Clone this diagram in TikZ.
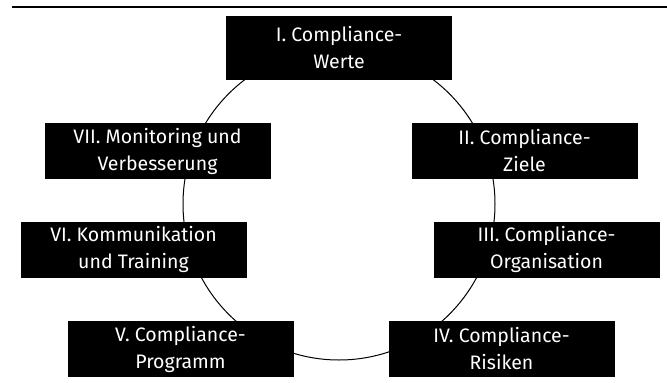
\documentclass[tikz,border=0pt]{standalone}
\usepackage{fontspec}
\setmainfont{Fira Sans}
\usepackage{tikz}

\begin{document}
\begin{tikzpicture}[x=1pt,y=-1pt,
		stage/.style={fill=black, text=white, minimum width=226pt, minimum height=56pt,
			inner sep=0pt, align=center, font=\fontsize{19.5}{27}\selectfont}]
		% Frame of the page
		\useasboundingbox (0,0) rectangle (667,383);
		
		% Top rule
		\coordinate (ruleL) at (12,7);
		\coordinate (ruleR) at (667,7);
		\draw[line width=1.4pt] (ruleL) -- (ruleR);
		
		% The cycle behind the stages
		\coordinate (ctr) at (339,204);
		\draw[line width=1pt] (ctr) circle (156);
		
		% Stages of the cycle
		\node[stage, minimum height=64pt] (werte) at (339,48) {I. Compliance-\\Werte};
		\node[stage] (ziele) at (524.5,151) {II. Compliance-\\Ziele};
		\node[stage] (organisation) at (546.5,249.5) {III. Compliance-\\Organisation};
		\node[stage] (risiken) at (501.5,349) {IV. Compliance-\\Risiken};
		\node[stage] (programm) at (180.5,349) {V. Compliance-\\Programm};
		\node[stage] (kommunikation) at (133.5,249.5) {VI. Kommunikation\\und Training};
		\node[stage] (monitoring) at (157.5,151) {VII. Monitoring und\\Verbesserung};
	\end{tikzpicture}
\end{document}
